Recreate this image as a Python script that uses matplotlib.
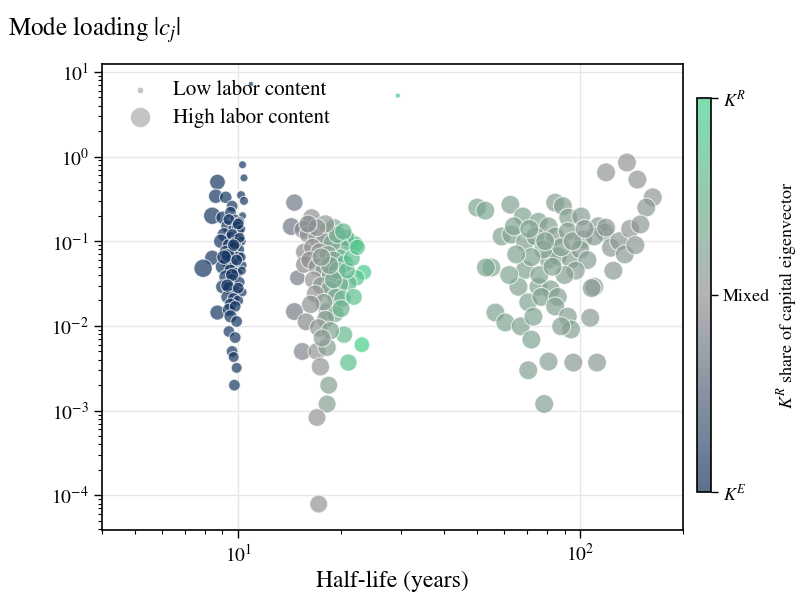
import matplotlib

matplotlib.use("Agg")
import matplotlib.pyplot as plt
import numpy as np
from matplotlib.colors import LinearSegmentedColormap
from matplotlib.ticker import NullFormatter

plt.rcParams["font.family"] = ["STIXGeneral", "DejaVu Serif"]
plt.rcParams["mathtext.fontset"] = "stix"

# --- data: (half-life, |c_j|, K^R share, labor content) per cluster ---
fast_hl = [10.3, 10.4, 8.7, 8.6, 9.2, 10.2, 10.4, 9.6, 8.4, 9.0, 10.3, 9.5, 9.8, 10.1,
           9.3, 9.7, 10.0, 9.1, 9.5, 9.9, 10.2, 8.9, 9.4, 9.8, 10.1, 9.2, 9.6, 10.0, 8.4,
           9.3, 9.7, 10.3, 7.9, 9.0, 9.5, 9.9, 9.2, 9.6, 10.1, 9.0, 9.4, 9.8, 9.3, 9.7,
           10.0, 9.5, 8.7, 9.4, 9.8, 9.5, 9.9, 9.4, 9.8, 9.6, 9.7, 9.9, 9.75, 9.4, 9.9,
           10.2, 9.6, 10.25, 10.2, 9.35, 10.3, 9.1, 9.8, 10.0, 9.6, 10.1, 9.3, 9.9, 10.0,
           9.7, 10.9]
fast_c = [0.80, 0.56, 0.50, 0.34, 0.33, 0.35, 0.30, 0.26, 0.20, 0.19, 0.20, 0.22, 0.18, 0.17,
          0.15, 0.14, 0.13, 0.12, 0.11, 0.105, 0.10, 0.10, 0.09, 0.085, 0.08, 0.075, 0.07,
          0.065, 0.064, 0.058, 0.055, 0.052, 0.048, 0.05, 0.045, 0.042, 0.038, 0.035, 0.033,
          0.029, 0.028, 0.026, 0.022, 0.021, 0.02, 0.018, 0.0144, 0.0155, 0.017, 0.013,
          0.0113, 0.0086, 0.0073, 0.005, 0.0043, 0.0032, 0.002, 0.18, 0.15, 0.14, 0.12,
          0.045, 0.065, 0.068, 0.025, 0.065, 0.095, 0.16, 0.04, 0.11, 0.03, 0.06, 0.028,
          0.09, 7.2]
fast_kr = [0.0] * len(fast_hl)
fast_labor = [0.1, 0.1, 0.6, 0.5, 0.35, 0.15, 0.15, 0.3, 0.75, 0.4, 0.1, 0.3, 0.25, 0.2,
              0.4, 0.3, 0.3, 0.45, 0.35, 0.3, 0.2, 0.5, 0.4, 0.35, 0.2, 0.4, 0.4, 0.3, 0.55,
              0.45, 0.35, 0.15, 0.85, 0.5, 0.4, 0.3, 0.45, 0.35, 0.25, 0.45, 0.4, 0.3, 0.4,
              0.35, 0.25, 0.35, 0.55, 0.4, 0.3, 0.4, 0.3, 0.3, 0.3, 0.3, 0.25, 0.25, 0.3,
              0.3, 0.25, 0.15, 0.3, 0.15, 0.2, 0.45, 0.15, 0.5, 0.35, 0.3, 0.4, 0.25, 0.4,
              0.3, 0.3, 0.35, 0.0]

mid_hl = [14.6, 14.3, 16.4, 15.5, 18.2, 19.1, 21.3, 22.0, 20.7, 20.0, 23.3, 22.2, 21.0, 14.9,
          15.6, 15.6, 19.8, 19.8, 14.6, 15.8, 18.2, 19.2, 20.4, 23.0, 21.0, 15.4, 17.0, 18.2,
          17.4, 18.4, 18.2, 17.0, 17.2, 16.0, 17.0, 17.8, 18.8, 19.5, 20.3, 16.5, 17.3, 18.3,
          19.0, 20.5, 16.2, 17.0, 17.8, 18.6, 19.5, 20.8, 16.6, 17.5, 18.5, 19.3, 20.2, 16.8,
          17.8, 16.3, 18.0, 17.2, 18.6, 17.6, 21.5, 22.3, 18.0, 17.0, 16.0, 21.8, 19.0,
          20.0, 18.5, 17.5, 29.3]
mid_c = [0.286, 0.149, 0.19, 0.137, 0.13, 0.145, 0.099, 0.092, 0.11, 0.085, 0.043, 0.037,
         0.032, 0.037, 0.075, 0.053, 0.064, 0.031, 0.0148, 0.0112, 0.0148, 0.014, 0.0079,
         0.006, 0.0037, 0.005, 0.005, 0.0056, 0.0033, 0.002, 0.0012, 0.00083, 7.9e-5, 0.12,
         0.11, 0.10, 0.095, 0.12, 0.13, 0.085, 0.075, 0.07, 0.06, 0.055, 0.06, 0.05, 0.045,
         0.04, 0.045, 0.045, 0.035, 0.03, 0.027, 0.022, 0.021, 0.024, 0.019, 0.018, 0.012,
         0.0095, 0.0088, 0.0072, 0.063, 0.085, 0.16, 0.145, 0.16, 0.022, 0.035, 0.016,
         0.052, 0.065, 5.25]
mid_kr = [0.35, 0.35, 0.48, 0.45, 0.55, 0.65, 0.85, 0.9, 0.8, 0.75, 0.95, 0.88, 0.8, 0.38,
          0.45, 0.45, 0.75, 0.72, 0.38, 0.45, 0.6, 0.68, 0.8, 0.97, 0.85, 0.42, 0.5, 0.6,
          0.52, 0.6, 0.6, 0.5, 0.5, 0.48, 0.52, 0.55, 0.62, 0.7, 0.78, 0.5, 0.53, 0.6, 0.66,
          0.8, 0.48, 0.52, 0.57, 0.63, 0.72, 0.82, 0.5, 0.55, 0.62, 0.68, 0.77, 0.5, 0.57,
          0.48, 0.57, 0.52, 0.62, 0.55, 0.85, 0.9, 0.55, 0.52, 0.45, 0.85, 0.68, 0.75, 0.62,
          0.55, 0.92]
mid_labor = [0.75, 0.8, 0.8, 0.85, 0.8, 0.8, 0.75, 0.7, 0.75, 0.8, 0.6, 0.65, 0.75, 0.6,
             0.75, 0.75, 0.8, 0.8, 0.8, 0.8, 0.8, 0.8, 0.75, 0.6, 0.75, 0.8, 0.8, 0.85,
             0.85, 0.8, 0.8, 0.8, 0.8, 0.75, 0.8, 0.8, 0.8, 0.8, 0.75, 0.8, 0.8, 0.8, 0.8,
             0.75, 0.8, 0.8, 0.8, 0.8, 0.8, 0.7, 0.8, 0.8, 0.8, 0.8, 0.75, 0.8, 0.8, 0.85,
             0.8, 0.85, 0.85, 0.8, 0.7, 0.65, 0.85, 0.8, 0.8, 0.7, 0.8, 0.8, 0.85, 0.85, 0.0]

slow_hl = [119, 137, 147, 163, 156, 50, 52.8, 62.5, 84.5, 89, 68, 75.5, 80.8, 92.3, 100.7,
           113, 118, 58.9, 62.9, 69, 74, 84.5, 92, 102, 110, 55, 53, 69, 80.8, 86, 94, 110,
           75.5, 82, 66, 70.5, 77, 86, 56.5, 60.4, 67, 73, 72, 84.5, 92, 94, 107, 88, 70.5,
           80.8, 95.5, 112, 78.5, 123, 119, 108, 130, 140, 135, 125, 100, 105, 97, 90, 78,
           72, 65, 62, 76, 83, 88, 95, 103, 64, 71, 79, 150, 145]
slow_c = [0.65, 0.85, 0.535, 0.33, 0.25, 0.25, 0.23, 0.27, 0.286, 0.26, 0.196, 0.17, 0.15,
          0.19, 0.196, 0.15, 0.127, 0.114, 0.12, 0.097, 0.114, 0.114, 0.13, 0.105, 0.114,
          0.049, 0.049, 0.046, 0.061, 0.066, 0.061, 0.029, 0.029, 0.027, 0.029, 0.019, 0.022,
          0.022, 0.0144, 0.011, 0.0099, 0.0129, 0.0069, 0.017, 0.0129, 0.0091, 0.0125,
          0.0099, 0.0030, 0.0038, 0.0037, 0.0037, 0.0012, 0.084, 0.145, 0.028, 0.1, 0.14,
          0.07, 0.045, 0.08, 0.06, 0.045, 0.04, 0.08, 0.065, 0.07, 0.04, 0.04, 0.05, 0.085,
          0.1, 0.14, 0.15, 0.14, 0.1, 0.158, 0.09]
slow_kr = [0.52, 0.5, 0.52, 0.53, 0.55, 0.65, 0.66, 0.6, 0.58, 0.6, 0.62, 0.62, 0.6, 0.6,
           0.58, 0.55, 0.55, 0.62, 0.62, 0.62, 0.6, 0.6, 0.6, 0.58, 0.57, 0.65, 0.66, 0.62,
           0.6, 0.6, 0.6, 0.57, 0.62, 0.6, 0.62, 0.63, 0.62, 0.6, 0.64, 0.64, 0.62, 0.63,
           0.64, 0.6, 0.6, 0.6, 0.56, 0.6, 0.6, 0.58, 0.56, 0.55, 0.58, 0.55, 0.55, 0.56,
           0.55, 0.53, 0.55, 0.55, 0.58, 0.58, 0.58, 0.6, 0.6, 0.62, 0.62, 0.63, 0.62, 0.6,
           0.6, 0.58, 0.57, 0.62, 0.62, 0.6, 0.53, 0.54]
slow_labor = [0.9] * len(slow_hl)

hl = np.array(fast_hl + mid_hl + slow_hl)
c = np.array(fast_c + mid_c + slow_c)
kr = np.array(fast_kr + mid_kr + slow_kr)
labor = np.array(fast_labor + mid_labor + slow_labor)

cmap = LinearSegmentedColormap.from_list("kekr", ["#163662", "#949494", "#45d18b"])

fig = plt.figure(figsize=(7.99, 5.92), dpi=100)
ax = fig.add_axes([0.1277, 0.1047, 0.7273, 0.7873])

sc = ax.scatter(hl, c, s=14 + 190 * labor, c=kr, cmap=cmap, vmin=0, vmax=1,
                alpha=0.7, edgecolors="white", linewidths=0.8, zorder=3)

ax.set_xscale("log")
ax.set_yscale("log")
ax.set_xlim(4, 200)
ax.set_ylim(3.9e-5, 12.4)
ax.xaxis.set_minor_formatter(NullFormatter())
ax.grid(True, which="major", color="#e6e6e6", linewidth=1.0, zorder=0)
ax.set_axisbelow(True)
ax.tick_params(which="major", length=6, width=1.0, labelsize=14)
ax.tick_params(which="minor", length=3, width=0.8)
for sp in ax.spines.values():
    sp.set_linewidth(1.2)
ax.set_xlabel("Half-life (years)", fontsize=17)

lo = ax.scatter([], [], s=22, color="#c4c4c4", edgecolors="white", linewidths=0.5)
hi = ax.scatter([], [], s=210, color="#c4c4c4", edgecolors="white", linewidths=0.5)
ax.legend([lo, hi], ["Low labor content", "High labor content"], loc="upper left",
          frameon=False, fontsize=15, borderaxespad=0.5, handletextpad=0.6,
          labelspacing=0.35, borderpad=0.3)

fig.text(0.01, 0.94, r"Mode loading $|c_j|$", fontsize=18)

cax = fig.add_axes([0.8723, 0.169, 0.0175, 0.6655])
cbar = fig.colorbar(sc, cax=cax, ticks=[0, 0.5, 1])
cbar.ax.set_yticklabels([r"$K^E$", "Mixed", r"$K^R$"], fontsize=13)
cbar.ax.tick_params(length=5, width=1.0)
cbar.outline.set_linewidth(1.2)
cbar.set_label(r"$K^R$ share of capital eigenvector", fontsize=13, labelpad=4)

fig.savefig("out.png", dpi=100)
